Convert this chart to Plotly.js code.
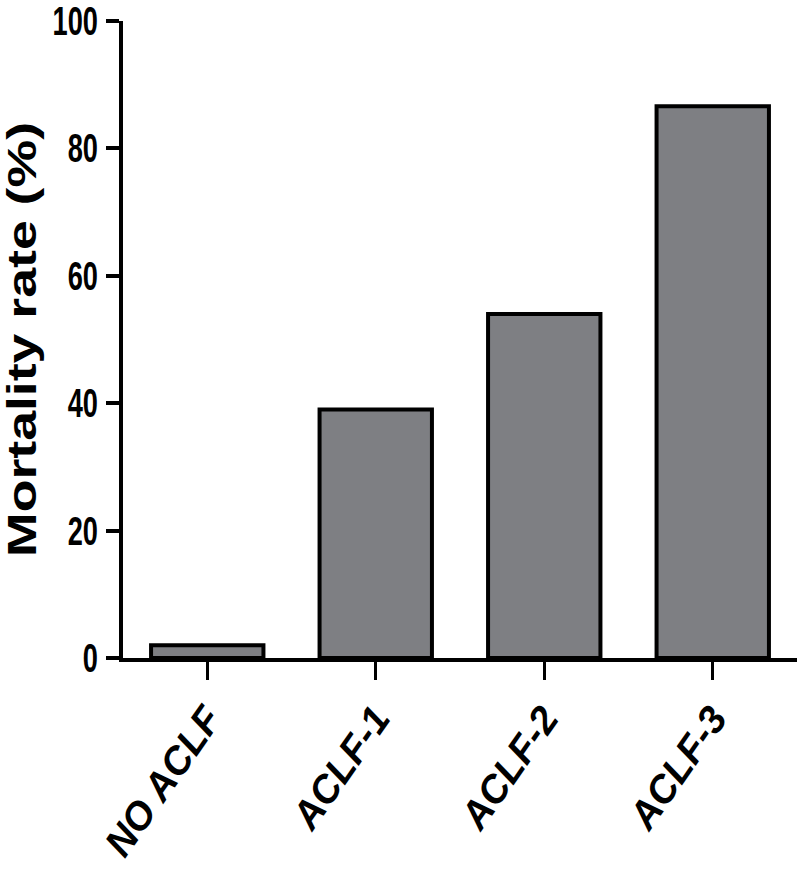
<!DOCTYPE html>
<html>
<head>
<meta charset="utf-8">
<script src="https://cdn.plot.ly/plotly-3.0.1.min.js"></script>
<style>
  html, body { margin: 0; padding: 0; background: #fff; }
  #chart { width: 800px; height: 870px; }
</style>
</head>
<body>
<div id="chart"></div>
<script>
// groups and mortality (%)
const groups = ["NO ACLF", "ACLF-1", "ACLF-2", "ACLF-3"];
const mortality = [2.0, 39.0, 54.0, 86.6];
const yTicks = [0, 20, 40, 60, 80, 100];

const trace = {
    type: "bar",
    x: groups,
    y: mortality,
    marker: {
        color: "#7e7f83",
        line: { color: "#000", width: 4 }
    },
    hoverinfo: "skip"
};

const layout = {
    width: 800,
    height: 870,
    margin: { l: 123, r: 3, t: 21, b: 212 },
    paper_bgcolor: "#fff",
    plot_bgcolor: "#fff",
    showlegend: false,
    bargap: 0.333,
    xaxis: {
        type: "category",
        range: [-0.5, 3.5],
        showline: true,
        linecolor: "#000",
        linewidth: 4,
        ticks: "outside",
        ticklen: 18,
        tickwidth: 3,
        tickcolor: "#000",
        tickangle: -55,
        showgrid: false,
        zeroline: false,
        tickfont: { family: "Liberation Sans, Arial, sans-serif", size: 39, color: "#000", weight: "bold", style: "italic" }
    },
    yaxis: {
        range: [0, 100],
        tickvals: yTicks,
        ticklabeloverflow: "allow",
        showline: true,
        linecolor: "#000",
        linewidth: 4,
        ticks: "outside",
        ticklen: 13,
        tickwidth: 4,
        tickcolor: "#000",
        showgrid: false,
        zeroline: false,
        tickfont: { family: "Liberation Sans, Arial, sans-serif", size: 40, color: "#000", weight: "bold" },
        title: {
            text: "Mortality rate (%)",
            standoff: 20,
            font: { family: "Liberation Sans, Arial, sans-serif", size: 40, color: "#000", weight: "bold" }
        }
    }
};

// the original uses a condensed face for the digits and a wide one for the title
function squeeze(sel, factor, fixed) {
    document.querySelectorAll(sel).forEach(function (t) {
        const w = t.getComputedTextLength();
        t.setAttribute("textLength", fixed ? fixed : w * factor);
        t.setAttribute("lengthAdjust", "spacingAndGlyphs");
    });
}

Plotly.newPlot("chart", [trace], layout, { staticPlot: true }).then(function () {
    squeeze("#chart .ytick text", 0.68);
    squeeze("#chart .g-ytitle text", 1, 435);
});
</script>
</body>
</html>
